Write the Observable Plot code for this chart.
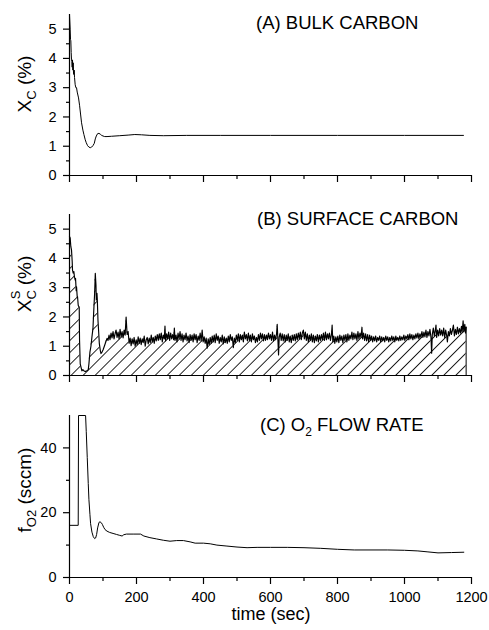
<!DOCTYPE html>
<html><head><meta charset="utf-8">
<script src="https://cdn.jsdelivr.net/npm/d3@7"></script>
<script src="https://cdn.jsdelivr.net/npm/@observablehq/plot@0.6"></script>
<style>
body{margin:0;background:#fff;}
#chart{width:489px;}
#chart svg{display:block;}
</style></head><body><div id="chart"></div>
<script>
// ---------- data ----------
const xMajorTicks = [0, 200, 400, 600, 800, 1000, 1200];
const xMinorTicks = [100, 300, 500, 700, 900, 1100];
const carbonMajorTicks = [0, 1, 2, 3, 4, 5];
const carbonMinorTicks = [0.5, 1.5, 2.5, 3.5, 4.5];
const flowMajorTicks = [0, 20, 40];
const flowMinorTicks = [10, 30];

const panelTitles = ["(A) BULK CARBON", "(B) SURFACE CARBON", "(C) O", "2", " FLOW RATE"];

// (A) bulk carbon  [time s, %]
const bulkCarbon = [[0,5.5],[2,5.0],[3,4.65],[4,4.6],[5,4.2],[6,3.95],[7,3.9],[8,3.7],[9,3.95],[10,3.6],[11,3.85],[12,3.5],[13,3.45],[14,3.6],[15,3.35],[17,3.1],[19,3.0],[21,3.0],[23,2.85],[25,2.75],[27,2.65],[30,2.4],[33,2.1],[36,1.8],[40,1.55],[43,1.4],[47,1.22],[50,1.12],[54,1.02],[58,0.97],[62,0.95],[66,0.97],[70,1.02],[74,1.1],[77,1.25],[80,1.35],[84,1.43],[88,1.44],[92,1.41],[96,1.37],[100,1.35],[105,1.33],[112,1.33],[125,1.34],[150,1.36],[175,1.38],[195,1.40],[215,1.39],[240,1.37],[280,1.36],[350,1.37],[450,1.37],[600,1.37],[800,1.37],[1000,1.37],[1176,1.37]];

// (B) surface carbon [time s, %]
const surfaceCarbon = [[0,4.75],[2,4.7],[4,4.4],[6,4.29],[8,3.9],[9,3.6],[11,3.5],[13,3.55],[15,3.35],[17,3.26],[18,3.32],[20,2.9],[21,3.03],[23,2.7],[24,2.69],[26,2.4],[28,2.35],[29,2.35],[30,1.2],[32,0.4],[34,0.3],[37,0.16],[40,0.2],[44,0.15],[48,0.14],[52,0.16],[56,0.2],[58,0.4],[61,0.8],[64,1.0],[67,1.32],[70,1.6],[72,2.12],[75,2.8],[77,3.49],[79,3.1],[80,2.58],[82,2.81],[83,2.6],[85,1.89],[87,1.5],[89,1.1],[92,0.85],[94,0.75],[97,0.8],[100,0.87],[104,1.0],[107,1.1],[110,1.2],[112,1.27],
[115,1.2],[118,1.38],[121,1.22],[124,1.45],[127,1.28],[130,1.5],[133,1.25],[136,1.42],[139,1.55],[142,1.3],[145,1.48],[148,1.25],[151,1.58],[154,1.32],[157,1.5],[160,1.28],[163,1.55],[166,1.38],[169,2.0],[172,1.4],[175,1.5],[178,1.1],
[181,1.28],[184,1.02],[187,1.25],[190,1.08],[193,1.3],[196,1.0],[199,1.22],[202,1.05],[205,1.32],[208,1.1],[211,1.28],[214,1.05],[217,1.25],[220,1.12],[223,1.35],[226,1.0],[229,1.22],[232,1.3],[235,1.08],[238,1.28],[241,1.12],[244,1.38],[247,1.15],[250,1.3],[253,1.1],[256,1.35],[259,1.18],
[262,1.4],[265,1.2],[268,1.42],[271,1.22],[274,1.45],[277,1.15],[280,1.38],[283,1.25],[285,1.69],[287,1.18],[290,1.42],[293,1.25],[296,1.48],[299,1.2],[302,1.45],[305,1.25],[308,1.4],[311,1.22],[313,1.62],[315,1.2],[318,1.38],[321,1.15],[324,1.45],[327,1.25],[330,1.5],[333,1.2],[336,1.42],[339,1.15],[342,1.38],[345,1.22],[348,1.45],[351,1.18],[354,1.35],[357,1.12],[360,1.4],[363,1.2],[366,1.38],[369,1.15],[372,1.42],[375,1.22],[378,1.4],[381,1.12],[384,1.35],[387,1.2],[390,1.45],[393,1.18],[396,1.55],[399,1.15],
[402,1.32],[405,1.1],[408,1.28],[411,0.93],[414,1.25],[417,1.05],[420,1.3],[423,1.1],[426,1.35],[429,1.15],[432,1.38],[435,1.12],[438,1.42],[441,1.2],[444,1.35],[447,1.1],[450,1.3],[453,1.15],[456,1.38],[459,1.08],[462,1.32],[465,1.12],[468,1.28],[471,1.1],[474,1.35],[477,1.15],[480,1.4],[483,1.2],[486,1.32],[489,0.95],[492,1.28],[495,1.12],[498,1.38],[501,1.2],[504,1.42],[507,1.15],[510,1.4],[513,1.22],[516,1.38],[519,1.15],[522,1.48],[525,1.25],[528,1.4],[531,1.18],[534,1.45],[537,1.2],[540,1.38],[543,1.15],[546,1.42],[549,1.22],[552,1.35],[555,1.12],[558,1.3],
[561,1.15],[564,1.4],[567,1.2],[570,1.45],[573,1.25],[576,1.42],[579,1.18],[582,1.4],[585,1.2],[588,1.38],[591,1.22],[594,1.45],[597,1.25],[600,1.4],[603,1.2],[606,1.48],[609,1.18],[612,1.38],[615,1.22],[618,1.42],[620,1.75],[622,1.25],[624,0.7],[626,1.3],[629,1.45],[632,1.2],[635,1.42],[638,1.18],[641,1.4],[644,1.15],[647,1.38],[650,1.2],[653,1.42],[656,1.15],[659,1.35],[662,1.12],[665,1.38],[668,1.2],[671,1.4],[674,1.18],[677,1.42],[680,1.22],[683,1.45],[686,1.25],[689,1.48],[692,1.22],[695,1.45],[698,1.55],[701,1.25],[704,1.48],
[707,1.2],[710,1.42],[713,1.15],[716,1.38],[719,1.2],[722,1.42],[725,1.15],[728,1.38],[731,1.12],[734,1.35],[737,1.18],[740,1.4],[743,1.15],[746,1.38],[749,1.2],[752,1.4],[755,1.22],[758,1.45],[761,1.2],[764,1.48],[767,1.22],[770,1.42],[773,1.25],[776,1.45],[779,1.2],[782,1.4],[784,1.72],[786,1.15],[789,1.35],[792,1.1],[795,1.32],[798,1.15],[801,1.35],[804,1.12],[807,1.38],[810,1.2],[813,1.35],[816,1.12],[819,1.38],[822,1.2],[825,1.4],[828,1.15],[831,1.42],[834,1.2],[837,1.38],[840,1.25],[843,1.48],[846,1.22],[849,1.45],[852,1.25],[855,1.42],[858,1.2],[861,1.5],[864,1.25],[867,1.45],[870,1.3],[873,1.65],[875,1.25],[878,1.45],[881,1.2],[884,1.42],[887,1.18],[890,1.4],[893,1.15],[896,1.38],[899,1.2],
[902,1.35],[905,1.15],[908,1.32],[911,1.18],[914,1.35],[917,1.15],[920,1.3],[923,1.2],[926,1.35],[929,1.15],[932,1.32],[935,1.18],[938,1.3],[941,1.15],[944,1.35],[947,1.2],[950,1.32],[953,1.15],[956,1.3],[959,1.18],[962,1.35],[965,1.2],[968,1.32],[971,1.15],[974,1.35],[977,1.2],[980,1.3],[983,1.18],[986,1.35],[989,1.2],[992,1.32],[995,1.22],[998,1.38],[1001,1.2],[1004,1.35],[1007,1.25],[1010,1.4],[1013,1.22],[1016,1.42],[1019,1.25],[1022,1.4],[1025,1.22],[1028,1.38],[1031,1.25],[1034,1.42],[1037,1.28],[1040,1.45],[1043,1.25],[1046,1.42],[1049,1.3],
[1052,1.5],[1055,1.3],[1058,1.48],[1061,1.32],[1064,1.55],[1067,1.3],[1070,1.5],[1073,1.35],[1076,1.58],[1079,1.3],[1081,0.76],[1083,1.4],[1086,1.62],[1089,1.35],[1092,1.55],[1094,1.72],[1096,1.3],[1099,1.55],[1102,1.35],[1105,1.6],[1108,1.38],[1111,1.55],[1114,1.35],[1117,1.62],[1120,1.3],[1123,1.55],[1126,1.35],[1128,1.15],[1131,1.5],[1134,1.35],[1137,1.6],[1140,1.4],[1143,1.55],[1146,1.72],[1149,1.35],[1152,1.58],[1155,1.4],[1158,1.65],[1161,1.42],[1164,1.6],[1167,1.45],[1170,1.68],[1172,1.48],[1175,1.87],[1177,1.5],[1180,1.75],[1182,1.45],[1184,1.65]];

// (C) O2 flow rate [time s, sccm]
const o2Flow = [[0,16.1],[26,16.1],[27,50],[48,50],[50,45],[53,37],[56,29],[58,24],[61,19.5],[63,16.6],[67,14],[71,12.6],[75,12.0],[78,12.2],[81,13.3],[84,15.3],[88,17.0],[91,17.2],[95,16.9],[98,16.4],[102,15.5],[106,14.8],[112,14.3],[120,13.9],[130,13.6],[140,13.3],[150,13.0],[157,12.8],[162,13.2],[170,13.4],[190,13.4],[212,13.4],[222,12.8],[240,12.3],[260,11.9],[280,11.5],[300,11.2],[320,11.4],[340,11.4],[360,11.0],[375,10.6],[400,10.6],[420,10.4],[440,10.0],[470,9.7],[500,9.4],[530,9.2],[560,9.3],[600,9.3],[650,9.3],[700,9.2],[750,9.0],[800,8.7],[850,8.5],[900,8.5],[950,8.5],[1000,8.4],[1040,8.2],[1070,7.9],[1100,7.6],[1140,7.7],[1177,7.8]];

// ---------- drawing ----------
const FONT = "'Liberation Sans', Arial, Helvetica, sans-serif";
const toObj = a => a.map(([t, v]) => ({t, v}));

function panel({height, marginTop, marginBottom, yDomain, yMajor, yMinor, showX, marks}) {
  return Plot.plot({
    width: 489, height, marginTop, marginBottom, marginLeft: 69, marginRight: 18,
    style: {fontFamily: FONT, fontSize: "14.5px", color: "#000", background: "#fff", overflow: "visible"},
    x: {domain: [0, 1200]},
    y: {domain: yDomain},
    marks: [
      ...marks,
      Plot.ruleY([yDomain[0]], {stroke: "#000", strokeWidth: 1.2}),
      Plot.ruleX([0], {stroke: "#000", strokeWidth: 1.2}),
      Plot.axisX(xMajorTicks, {tickSize: 7, tickPadding: 7, strokeWidth: 1.2, tickFormat: showX ? (d => String(d)) : (() => ""), label: null}),
      Plot.axisX(xMinorTicks, {tickSize: 4, strokeWidth: 1.2, tickFormat: () => "", label: null}),
      Plot.axisY(yMajor, {tickSize: 6, tickPadding: 7, strokeWidth: 1.2, label: null}),
      Plot.axisY(yMinor, {tickSize: 3, strokeWidth: 1.2, tickFormat: () => "", label: null})
    ]
  });
}

function addText(svg, attrs, parts, size) {
  const t = d3.select(svg).append("text")
    .attr("font-family", FONT).attr("font-size", size).attr("fill", "#000");
  Object.entries(attrs).forEach(([k, v]) => t.attr(k, v));
  parts.forEach(p => {
    const s = t.append("tspan").text(p.text);
    if (p.size) s.attr("font-size", p.size);
    if (p.dy) s.attr("dy", p.dy);
    if (p.dx) s.attr("dx", p.dx);
  });
}
const addTitle = (svg, x, y, parts) => addText(svg, {x, y, "text-anchor": "start"}, parts, 18.5);
const addYLabel = (svg, x, y, parts) => addText(svg, {transform: `translate(${x},${y}) rotate(-90)`, "text-anchor": "middle"}, parts, 19);

const chart = document.getElementById("chart");

// Panel A
const bulk = toObj(bulkCarbon);
const pA = panel({height: 200, marginTop: 14, marginBottom: 25, yDomain: [0, 5.5],
  yMajor: carbonMajorTicks, yMinor: carbonMinorTicks, showX: false,
  marks: [Plot.line(bulk, {x: "t", y: "v", stroke: "#000", strokeWidth: 1})]});
addTitle(pA, 256, 29, [{text: panelTitles[0]}]);
addYLabel(pA, 31, 84, [{text: "X"}, {text: "C", size: 13, dy: 5}, {text: " (%)", size: 19, dy: -5}]);
chart.appendChild(pA);

// Panel B
const surf = toObj(surfaceCarbon);
const last = surf[surf.length - 1];
const pB = panel({height: 200, marginTop: 14, marginBottom: 25, yDomain: [0, 5.5],
  yMajor: carbonMajorTicks, yMinor: carbonMinorTicks, showX: false,
  marks: [
    Plot.areaY(surf, {x: "t", y: "v", fill: "url(#hatchB)"}),
    Plot.line(surf, {x: "t", y: "v", stroke: "#000", strokeWidth: 1.15}),
    Plot.ruleX([last], {x: "t", y1: 0, y2: "v", stroke: "#000", strokeWidth: 1})
  ]});
{
  const w = 8.5;
  const pat = d3.select(pB).insert("defs", ":first-child").append("pattern")
    .attr("id", "hatchB").attr("patternUnits", "userSpaceOnUse")
    .attr("width", w).attr("height", w).attr("patternTransform", "rotate(45)");
  pat.append("line").attr("x1", w / 2).attr("y1", -1).attr("x2", w / 2).attr("y2", w + 1)
    .attr("stroke", "#000").attr("stroke-width", 0.9).attr("shape-rendering", "crispEdges");
}
addTitle(pB, 257, 25, [{text: panelTitles[1]}]);
addYLabel(pB, 31, 84, [{text: "X"}, {text: "C", size: 13, dy: 5}, {text: "S", size: 13, dx: -9, dy: -16}, {text: " (%)", size: 19, dy: 11}]);
chart.appendChild(pB);

// Panel C
const flow = toObj(o2Flow);
const pC = panel({height: 230, marginTop: 15, marginBottom: 53, yDomain: [0, 50],
  yMajor: flowMajorTicks, yMinor: flowMinorTicks, showX: true,
  marks: [Plot.line(flow, {x: "t", y: "v", stroke: "#000", strokeWidth: 1})]});
addTitle(pC, 260, 31, [{text: panelTitles[2]}, {text: panelTitles[3], size: 12, dy: 5}, {text: panelTitles[4], size: 18.5, dy: -5}]);
addYLabel(pC, 31, 90, [{text: "f"}, {text: "O2", size: 13, dy: 5}, {text: " (sccm)", size: 19, dy: -5}]);
addText(pC, {x: 271, y: 220, "text-anchor": "middle"}, [{text: "time (sec)"}], 18);
chart.appendChild(pC);
</script>
</body></html>
